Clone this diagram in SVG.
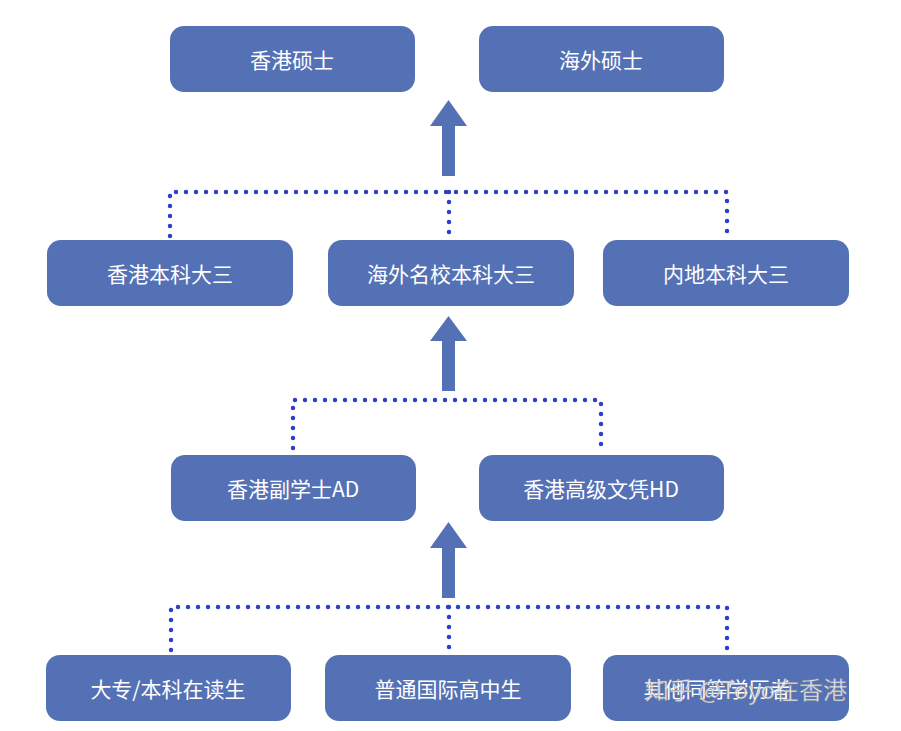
<svg xmlns="http://www.w3.org/2000/svg" width="901" height="731" viewBox="0 0 901 731">
<style>
.b{fill:#5571b5}
.t{fill:#fff;font-family:"Noto Sans CJK SC","Liberation Sans",sans-serif;font-size:21px;text-anchor:middle;dominant-baseline:central}
.d{fill:none;stroke:#2a3fcf;stroke-width:4.5;stroke-linecap:round;stroke-dasharray:0 10}
.a{fill:#5571b5}
</style>
<rect width="901" height="731" fill="#fff"/>
<g id="connectors">
<path class="d" d="M170 236V192H727V236M449 192V236"/>
<path class="d" d="M293 448V400H601V448"/>
<path class="d" d="M171 650V607H727V650M449 607V650"/>
<polygon class="a" points="442,176 442,126 430,126 448.5,100 467,126 455,126 455,176"/>
<polygon class="a" points="442,391 442,341 430,341 448.5,316 467,341 455,341 455,391"/>
<polygon class="a" points="442,598 442,548 430,548 448.5,522 467,548 455,548 455,598"/>
</g>
<g id="n1"><rect class="b" x="170" y="26" width="245" height="66" rx="14"/><text class="t" x="292" y="59">香港硕士</text></g>
<g id="n2"><rect class="b" x="479" y="26" width="245" height="66" rx="14"/><text class="t" x="601" y="59">海外硕士</text></g>
<g id="n3"><rect class="b" x="47" y="240" width="246" height="66" rx="14"/><text class="t" x="170" y="273">香港本科大三</text></g>
<g id="n4"><rect class="b" x="328" y="240" width="246" height="66" rx="14"/><text class="t" x="451" y="273">海外名校本科大三</text></g>
<g id="n5"><rect class="b" x="603" y="240" width="246" height="66" rx="14"/><text class="t" x="726" y="273">内地本科大三</text></g>
<g id="n6"><rect class="b" x="171" y="455" width="245" height="66" rx="14"/><text class="t" x="293" y="488">香港副学士AD</text></g>
<g id="n7"><rect class="b" x="479" y="455" width="245" height="66" rx="14"/><text class="t" x="601" y="488">香港高级文凭HD</text></g>
<g id="n8"><rect class="b" x="46" y="655" width="245" height="66" rx="14"/><text class="t" x="168" y="688">大专/本科在读生</text></g>
<g id="n9"><rect class="b" x="325" y="655" width="246" height="66" rx="14"/><text class="t" x="448" y="688">普通国际高中生</text></g>
<g id="n10"><rect class="b" x="603" y="655" width="246" height="66" rx="14"/><text class="t" x="717" y="688">其他同等学历者</text></g>
<text x="645" y="688" font-family="Noto Sans CJK SC,sans-serif" font-size="24" fill="#fff" fill-opacity="0.85" stroke="#888" stroke-width="0.5" dominant-baseline="central">知乎 @Toyo在香港</text>
</svg>
